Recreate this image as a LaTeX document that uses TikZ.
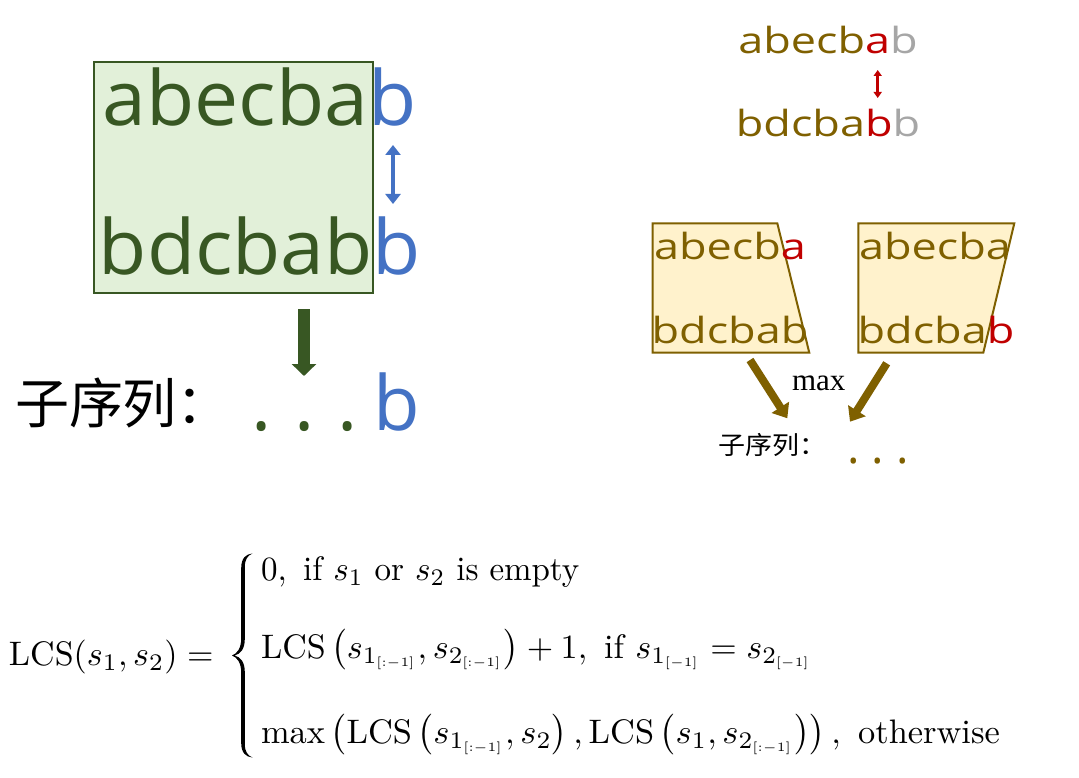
\documentclass[tikz,border=0pt]{standalone}
\usepackage{amsmath}
\usepackage{graphicx}
\usepackage{fontspec}
\usetikzlibrary{arrows.meta}
\newfontfamily\latinf{Open Sans}
\newfontfamily\cjkf{Noto Sans CJK SC}
\newfontfamily\serff{Liberation Serif}
\newcommand{\setfs}[1]{\fontsize{#1}{#1}\selectfont}
\newcommand{\fscale}[1]{\scalebox{3.4}{#1}}
\newcommand{\sls}[1]{\mbox{\scalebox{0.75}{$\scriptscriptstyle #1$}}}
\definecolor{dkgreen}{HTML}{385723}
\definecolor{ltgreen}{HTML}{E2F0D9}
\definecolor{blue4}{HTML}{4472C4}
\definecolor{olive7}{HTML}{7F6000}
\definecolor{yellow2}{HTML}{FFF2CC}
\definecolor{red0}{HTML}{C00000}
\definecolor{gray6}{HTML}{A6A6A6}
\tikzset{
  txt/.style={inner sep=0pt, outer sep=0pt},
  garrow/.style={draw=dkgreen, line width=12pt, -{Triangle[width=24pt,length=12pt]}},
  barrow/.style={draw=olive7, line width=8pt, -{Triangle[width=20pt,length=13pt]}},
  bluedbl/.style={draw=blue4, line width=4pt, {Triangle[width=15pt,length=10pt]}-{Triangle[width=15pt,length=10pt]}},
  reddbl/.style={draw=red0, line width=2.5pt, {Triangle[width=8pt,length=6pt]}-{Triangle[width=8pt,length=6pt]}},
  trap/.style={draw=olive7, fill=yellow2, line width=2pt, line join=miter},
  gboxstyle/.style={draw=dkgreen, fill=ltgreen, line width=2.3pt, inner sep=0pt, outer sep=0pt},
  bracestyle/.style={fill=black, draw=none},
}
\begin{document}
\begin{tikzpicture}[x=1pt, y=-1pt]
\useasboundingbox[fill=white] (0,0) rectangle (1079,778);

% ---------- left panel ----------
\node[gboxstyle, minimum width=279pt, minimum height=231pt] (gbox) at (233.5,177.5) {};
\node[txt, anchor=base] (topL) at (259.5,126) {\latinf\setfs{76}\scalebox{1.035}[1]{\textcolor{dkgreen}{abecba}\textcolor{blue4}{b}}};
\node[txt, anchor=base] (botL) at (260,274) {\latinf\setfs{76}\scalebox{1.035}[1]{\textcolor{dkgreen}{bdcbab}\textcolor{blue4}{b}}};
\coordinate (bl1) at (393,145);
\coordinate (bl2) at (393,204);
\draw[bluedbl] (bl1) -- (bl2);
\coordinate (ga1) at (304,309);
\coordinate (ga2) at (304,376);
\draw[garrow] (ga1) -- (ga2);
\node[txt, anchor=base west] (subL) at (15,423) {\cjkf\setfs{54}子序列：};
\node[txt, anchor=base west] (dotsL) at (251.9,430) {\latinf\setfs{76}\textcolor{dkgreen}{.\hspace{22.8pt}.\hspace{22.8pt}.}\hspace{15pt}\textcolor{blue4}{b}};

% ---------- right panel ----------
\node[txt, anchor=base] (tr1) at (828,54) {\latinf\setfs{36}\scalebox{1.25}[1]{\textcolor{olive7}{abecb}\textcolor{red0}{a}\textcolor{gray6}{b}}};
\node[txt, anchor=base] (tr2) at (828,137) {\latinf\setfs{36}\scalebox{1.25}[1]{\textcolor{olive7}{bdcba}\textcolor{red0}{b}\textcolor{gray6}{b}}};
\coordinate (rd1) at (877.7,70);
\coordinate (rd2) at (877.7,98);
\draw[reddbl] (rd1) -- (rd2);

\draw[trap] (652.7,223.3) -- (777.3,223.3) -- (809.3,352.7) -- (652.7,352.7) -- cycle;
\draw[trap] (858.3,223.3) -- (1014.3,223.3) -- (983.3,352.7) -- (858.3,352.7) -- cycle;
\node[txt, anchor=base] (b1a) at (730,259) {\latinf\setfs{36}\scalebox{1.25}[1]{\textcolor{olive7}{abecb}\textcolor{red0}{a}}};
\node[txt, anchor=base] (b1b) at (730,343) {\latinf\setfs{36}\scalebox{1.25}[1]{\textcolor{olive7}{bdcbab}}};
\node[txt, anchor=base] (b2a) at (935,259) {\latinf\setfs{36}\scalebox{1.25}[1]{\textcolor{olive7}{abecba}}};
\node[txt, anchor=base] (b2b) at (936,343) {\latinf\setfs{36}\scalebox{1.25}[1]{\textcolor{olive7}{bdcba}\textcolor{red0}{b}}};

\coordinate (ba1) at (750,360);
\coordinate (ba2) at (787.3,418.3);
\coordinate (bb1) at (886.7,363.3);
\coordinate (bb2) at (850,421.7);
\draw[barrow] (ba1) -- (ba2);
\draw[barrow] (bb1) -- (bb2);
\node[txt, anchor=base west] (maxl) at (792,390) {\serff\setfs{31}max};
\node[txt, anchor=base west] (subR) at (718.5,454) {\cjkf\setfs{25}\scalebox{1.08}[1]{子序列：}};
\node[txt, anchor=base west] (dotsR) at (847,463) {\latinf\setfs{47}\textcolor{olive7}{.\hspace{12.5pt}.\hspace{12.5pt}.}};

% ---------- formula ----------
\node[txt, anchor=base west] (lhs) at (9,665) {\fscale{$\operatorname{LCS}(s_1, s_2) =$}};
% large curly brace of the cases
\fill[bracestyle] (252.5,553.5)
  .. controls (246,554) and (241.2,558) .. (241.2,568)
  -- (241.2,638)
  .. controls (241.2,648) and (237.5,653.5) .. (232,655.5)
  .. controls (237.5,657.5) and (241.2,663) .. (241.2,673)
  -- (241.2,743)
  .. controls (241.2,753) and (246,757) .. (252.5,757.5)
  .. controls (247.5,755.5) and (244.8,751.5) .. (244.8,744)
  -- (244.8,672)
  .. controls (244.8,662) and (240.5,657) .. (234.5,655.5)
  .. controls (240.5,654) and (244.8,649) .. (244.8,639)
  -- (244.8,567)
  .. controls (244.8,559.5) and (247.5,555.5) .. (252.5,553.5)
  -- cycle;
\node[txt, anchor=base west] (row1) at (261,580) {\scalebox{3.3}[3.4]{$0,\ \text{if } s_1 \text{ or } s_2 \text{ is empty}$}};
\node[txt, anchor=base west] (row2) at (261,658) {\fscale{$\operatorname{LCS}\left(s_{1_{\sls{[:-1]}}}, s_{2_{\sls{[:-1]}}}\right)+1,\ \text{if } s_{1_{\sls{[-1]}}} = s_{2_{\sls{[-1]}}}$}};
\node[txt, anchor=base west] (row3) at (261,743) {\scalebox{3.44}[3.4]{$\max\left(\operatorname{LCS}\left(s_{1_{\sls{[:-1]}}}, s_2\right), \operatorname{LCS}\left(s_1, s_{2_{\sls{[:-1]}}}\right)\right),\ \text{otherwise}$}};
\end{tikzpicture}
\end{document}
